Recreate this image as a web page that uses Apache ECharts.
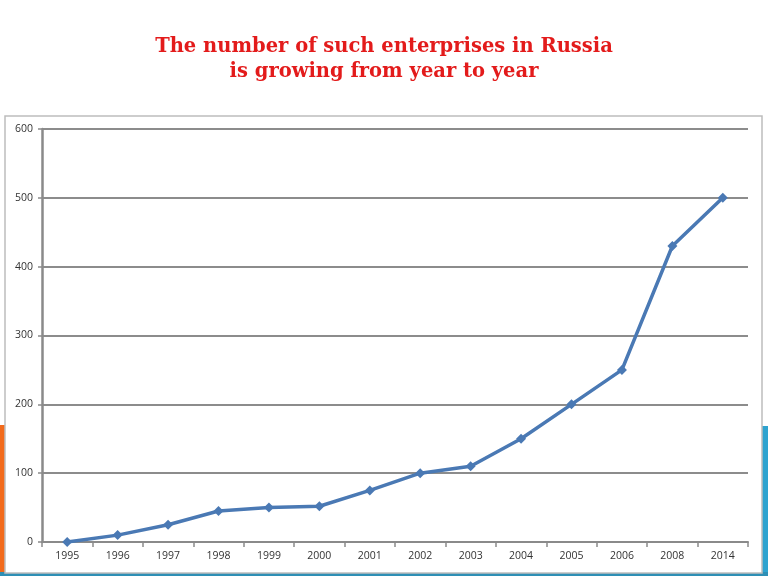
<!DOCTYPE html>
<html><head><meta charset="utf-8">
<script src="https://cdn.jsdelivr.net/npm/echarts@6/dist/echarts.min.js"></script>
<style>html,body{margin:0;padding:0;background:#fff}#c{width:768px;height:576px}</style>
</head><body><div id="c"></div>
<script>
const titleLines = ['The number of such enterprises in Russia', 'is growing from year to year'];
const years = ['1995','1996','1997','1998','1999','2000','2001','2002','2003','2004','2005','2006','2008','2014'];
const counts = [0, 10, 25, 45, 50, 52, 75, 100, 110, 150, 200, 250, 430, 500];
const yTicks = { min: 0, max: 600, interval: 100 };

const chart = echarts.init(document.getElementById('c'), null, { renderer: 'canvas' });
chart.setOption({
  animation: false,
  backgroundColor: '#fff',
  title: {
    text: titleLines.join('\n'),
    left: 'center', top: 29,
    textStyle: { fontFamily: 'DejaVu Serif', fontWeight: 'bold', fontSize: 19.5, color: '#e31b1b', lineHeight: 25 }
  },
  graphic: [
    { type: 'rect', z: -10, shape: { x: 0, y: 425, width: 8, height: 151 }, style: { fill: '#f26a1b' } },
    { type: 'rect', z: -10, shape: { x: 758, y: 426, width: 10, height: 150 }, style: { fill: '#2ea3cf' } },
    { type: 'rect', z: -10, shape: { x: 0, y: 572, width: 768, height: 4 }, style: { fill: '#2e8fb5' } },
    { type: 'rect', z: -5, shape: { x: 5, y: 116, width: 757, height: 457 }, style: { fill: '#fff', stroke: '#bdbdbd', lineWidth: 1.5 } }
  ],
  grid: { left: 42, right: 20, top: 129, bottom: 34, containLabel: false },
  xAxis: {
    type: 'category', data: years, boundaryGap: true,
    axisLine: { lineStyle: { color: '#8a8a8a', width: 2 } },
    axisTick: { show: true, alignWithLabel: false, length: 5, lineStyle: { color: '#8a8a8a', width: 1.5 } },
    axisLabel: { color: '#333', fontFamily: 'Open Sans', fontSize: 10.5, margin: 9 },
    splitLine: { show: false }
  },
  yAxis: {
    type: 'value', min: yTicks.min, max: yTicks.max, interval: yTicks.interval,
    axisLine: { show: true, lineStyle: { color: '#8a8a8a', width: 2.5 } },
    axisTick: { show: true, length: 4, lineStyle: { color: '#8a8a8a', width: 1.5 } },
    axisLabel: { color: '#333', fontFamily: 'Open Sans', fontSize: 10.5, margin: 9 },
    splitLine: { show: true, lineStyle: { color: '#8c8c8c', width: 2 } }
  },
  series: [{
    type: 'line', data: counts,
    symbol: 'diamond', symbolSize: 10,
    lineStyle: { color: '#4a79b4', width: 3.5 },
    itemStyle: { color: '#4a79b4' }
  }]
});
</script></body></html>
